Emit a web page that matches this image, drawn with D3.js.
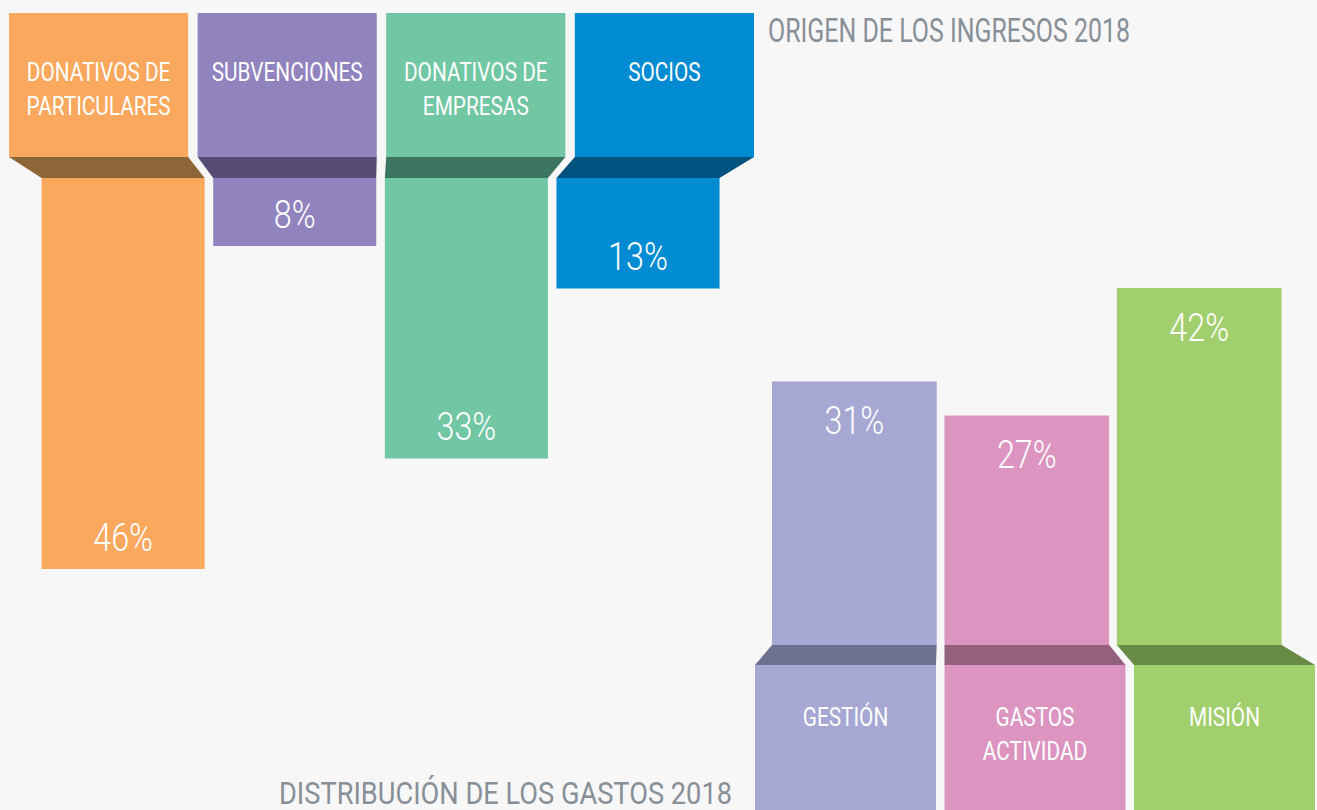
<!DOCTYPE html>
<html>
<head>
<meta charset="utf-8">
<script src="https://cdn.jsdelivr.net/npm/d3@7"></script>
<style>
	body { margin: 0; background: #f7f7f7; }
	text { font-family: Roboto, "Liberation Sans", sans-serif; }
</style>
</head>
<body>
<div id="vizContainer"></div>
<script>
let w = 1317;
let h = 810;

// ingresos (arriba)
let ingresosCategorias = [["DONATIVOS DE", "PARTICULARES"], ["SUBVENCIONES"], ["DONATIVOS DE", "EMPRESAS"], ["SOCIOS"]];
let ingresosValores = [46, 8, 33, 13];

// gastos (abajo)
let gastosCategorias = [["GESTIÓN"], ["GASTOS", "ACTIVIDAD"], ["MISIÓN"]];
let gastosValores = [31, 27, 42];

let tituloIngresos = "ORIGEN DE LOS INGRESOS 2018";
let tituloGastos = "DISTRIBUCIÓN DE LOS GASTOS 2018";

let ingresosColores = ["#f9a85d", "#9183bd", "#71c6a4", "#008bd2"];
let ingresosOscuros = ["#8e6538", "#564c74", "#3c7560", "#00527f"];
let gastosColores = ["#a6a8d3", "#db95c0", "#a2cf6e"];
let gastosOscuros = ["#6c718f", "#93607e", "#688a47"];

let viz = d3.select('#vizContainer').append('svg')
	.attr('width', w)
	.attr('height', h)
	.style('display', 'block')
	.style('background-color', '#f7f7f7')
	;

// one scale for the length of every bar
let lenScale = d3.scaleLinear().domain([0, 46]).range([0, 391]);

let persp = 0.91;
function toward(x, vx){
	return vx + (x - vx) * persp;
}

function trapezoid(x0, x1, y0, bx0, bx1, y1){
	return "M" + x0 + "," + y0 + "L" + x1 + "," + y0 + "L" + bx1 + "," + y1 + "L" + bx0 + "," + y1 + "Z";
}

// no condensed font installed, so squeeze the glyphs around the anchor x
function condense(sel, k){
	sel.attr('transform', function(){
		let x = +this.getAttribute('x');
		return "translate(" + x + ",0) scale(" + k + ",1) translate(" + (-x) + ",0)";
	});
}
let labelK = 0.8;
let pctK = 0.83;

// ---------- ingresos ----------
let topX = d3.scaleBand().domain(d3.range(ingresosValores.length)).range([9, 754]).paddingInner(0.05);
let headTop = 13;
let headBot = 157;
let trapBot = 178;
let vanishTop = 371;

let ingGroup = viz.append('g').attr('class', 'ingresos');

let ing = ingGroup.selectAll('.ing').data(ingresosValores).enter().append('g').attr('class', 'ing');

ing.append('rect')
	.attr('x', function(d, i){ return topX(i) })
	.attr('y', headTop)
	.attr('width', topX.bandwidth())
	.attr('height', headBot - headTop)
	.attr('fill', function(d, i){ return ingresosColores[i] })
	;

ing.append('path')
	.attr('d', function(d, i){
		let x0 = topX(i), x1 = topX(i) + topX.bandwidth();
		return trapezoid(x0, x1, headBot, toward(x0, vanishTop), toward(x1, vanishTop), trapBot);
	})
	.attr('fill', function(d, i){ return ingresosOscuros[i] })
	;

ing.append('rect')
	.attr('x', function(d, i){ return toward(topX(i), vanishTop) })
	.attr('y', trapBot)
	.attr('width', function(d, i){ return toward(topX(i) + topX.bandwidth(), vanishTop) - toward(topX(i), vanishTop) })
	.attr('height', function(d){ return lenScale(d) })
	.attr('fill', function(d, i){ return ingresosColores[i] })
	;

let ingLabels = ing.append('text')
	.attr('x', function(d, i){ return topX(i) + topX.bandwidth() / 2 })
	.attr('text-anchor', 'middle')
	.attr('fill', '#ffffff')
	.attr('font-size', 26)
	;
ingLabels.selectAll('tspan')
	.data(function(d, i){ return ingresosCategorias[i] })
	.enter().append('tspan')
	.attr('x', function(){ return this.parentNode.getAttribute('x') })
	.attr('y', function(d, j){ return 81 + j * 34.5 })
	.text(function(d){ return d })
	;
condense(ingLabels, labelK);

let ingPct = ing.append('text')
	.attr('x', function(d, i){ return (toward(topX(i), vanishTop) + toward(topX(i) + topX.bandwidth(), vanishTop)) / 2 })
	.attr('y', function(d){ return trapBot + lenScale(d) - 18 })
	.attr('text-anchor', 'middle')
	.attr('fill', '#ffffff')
	.attr('font-size', 39)
	.attr('font-weight', 300)
	.text(function(d){ return d + "%" })
	;
condense(ingPct, pctK);

ingGroup.append('text')
	.attr('x', 768)
	.attr('y', 41.5)
	.attr('fill', '#878f97')
	.attr('font-size', 33)
	.attr('textLength', 362)
	.attr('lengthAdjust', 'spacingAndGlyphs')
	.text(tituloIngresos)
	;

// ---------- gastos ----------
let botX = d3.scaleBand().domain(d3.range(gastosValores.length)).range([755, 1315]).paddingInner(0.045);
let boxTop = 665;
let trapTop = 645;
let vanishBot = 944;

let gasGroup = viz.append('g').attr('class', 'gastos');

let gas = gasGroup.selectAll('.gas').data(gastosValores).enter().append('g').attr('class', 'gas');

gas.append('rect')
	.attr('x', function(d, i){ return botX(i) })
	.attr('y', boxTop)
	.attr('width', botX.bandwidth())
	.attr('height', h - boxTop)
	.attr('fill', function(d, i){ return gastosColores[i] })
	;

gas.append('path')
	.attr('d', function(d, i){
		let x0 = botX(i), x1 = botX(i) + botX.bandwidth();
		return trapezoid(toward(x0, vanishBot), toward(x1, vanishBot), trapTop, x0, x1, boxTop);
	})
	.attr('fill', function(d, i){ return gastosOscuros[i] })
	;

gas.append('rect')
	.attr('x', function(d, i){ return toward(botX(i), vanishBot) })
	.attr('y', function(d){ return trapTop - lenScale(d) })
	.attr('width', function(d, i){ return toward(botX(i) + botX.bandwidth(), vanishBot) - toward(botX(i), vanishBot) })
	.attr('height', function(d){ return lenScale(d) })
	.attr('fill', function(d, i){ return gastosColores[i] })
	;

let gasLabels = gas.append('text')
	.attr('x', function(d, i){ return botX(i) + botX.bandwidth() / 2 })
	.attr('text-anchor', 'middle')
	.attr('fill', '#ffffff')
	.attr('font-size', 26)
	;
gasLabels.selectAll('tspan')
	.data(function(d, i){ return gastosCategorias[i] })
	.enter().append('tspan')
	.attr('x', function(){ return this.parentNode.getAttribute('x') })
	.attr('y', function(d, j){ return 726 + j * 34.5 })
	.text(function(d){ return d })
	;
condense(gasLabels, labelK);

let gasPct = gas.append('text')
	.attr('x', function(d, i){ return (toward(botX(i), vanishBot) + toward(botX(i) + botX.bandwidth(), vanishBot)) / 2 })
	.attr('y', function(d){ return trapTop - lenScale(d) + 53 })
	.attr('text-anchor', 'middle')
	.attr('fill', '#ffffff')
	.attr('font-size', 39)
	.attr('font-weight', 300)
	.text(function(d){ return d + "%" })
	;
condense(gasPct, pctK);

gasGroup.append('text')
	.attr('x', 279)
	.attr('y', 804)
	.attr('fill', '#878f97')
	.attr('font-size', 32)
	.attr('textLength', 453)
	.attr('lengthAdjust', 'spacingAndGlyphs')
	.text(tituloGastos)
	;
</script>
</body>
</html>
